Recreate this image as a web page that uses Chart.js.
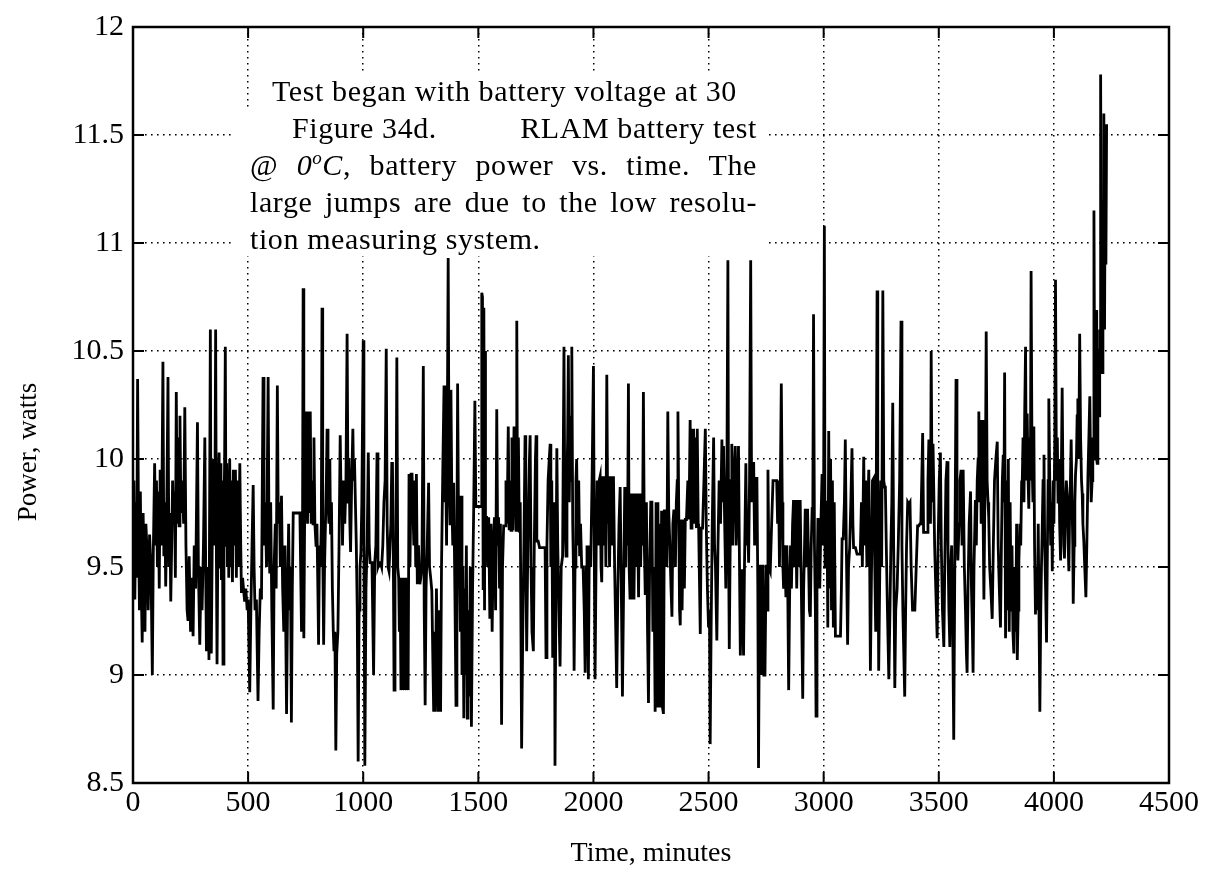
<!DOCTYPE html>
<html lang="en">
<head>
    <meta charset="UTF-8">
    <title>RLAM battery test - power vs. time</title>
    <script src="https://cdn.jsdelivr.net/npm/chart.js"></script>
    <style>
        html, body { margin: 0; padding: 0; background: #fff; }
        #wrap { width: 1206px; height: 888px; position: relative; }
    </style>
</head>
<body>
<div id="wrap"><canvas id="powerChart" width="1206" height="888"></canvas></div>

<script>
    // axis ticks
    const xTickValues = [0, 500, 1000, 1500, 2000, 2500, 3000, 3500, 4000, 4500];
    const yTickValues = [8.5, 9, 9.5, 10, 10.5, 11, 11.5, 12];

    // [time (min), power (W)], split in runs of ~750 min
    const run1 = [
        [0,9.6],[4,9.9],[8,9.35],[12,9.8],[16,9.45],[20,10.37],[24,9.7],[28,9.3],[32,9.85],[36,9.4],
        [40,9.15],[44,9.75],[48,9.5],[52,9.2],[56,9.7],[60,9.6],[66,9.3],[72,9.65],[78,9.5],[84,9.0],
        [88,9.55],[94,9.98],[98,9.6],[102,9.9],[106,9.5],[110,9.85],[114,9.4],[118,9.95],[124,9.6],[130,10.45],
        [134,9.55],[138,9.8],[142,9.41],[146,9.7],[152,10.38],[156,9.5],[160,9.75],[164,9.34],[168,9.6],[172,9.9],
        [176,9.7],[180,9.85],[184,9.45],[188,10.31],[192,9.7],[196,10.1],[200,9.69],[204,10.2],[208,9.75],[214,9.9],
        [220,9.7],[225,10.24],[230,9.6],[235,9.3],[239,9.25],[244,9.55],[250,9.2],[256,9.45],[261,9.18],[266,9.6],
        [272,9.4],[280,10.17],[284,9.5],[290,9.14],[296,9.5],[300,9.3],[306,9.6],[312,10.1],[316,9.45],[319,9.11],
        [324,9.5],[330,9.07],[336,10.6],[340,9.1],[345,9.7],[350,10.0],[355,9.6],[359,10.6],[362,9.6],[365,9.05],
        [370,9.8],[374,10.03],[378,9.5],[382,9.98],[384,9.44],[388,9.9],[391,9.05],[395,9.7],[398,10.0],[401,10.52],
        [404,9.6],[407,9.98],[410,9.5],[413,9.95],[416,9.45],[420,10.0],[424,9.5],[428,9.9],[432,9.43],[436,9.95],
        [440,9.6],[445,9.95],[449,9.45],[453,9.9],[458,9.5],[464,9.98],[468,9.6],[471,9.38],[476,9.45],[480,9.4],
        [485,9.34],[490,9.4],[496,9.3],[500,9.35],[507,8.92],[512,9.3],[517,9.6],[522,9.88],[526,9.5],[530,9.3],
        [536,9.35],[543,8.88],[548,9.2],[553,9.4],[558,9.35],[565,10.38],[569,9.6],[574,9.8],[580,9.5],[587,10.38],
        [591,9.6],[594,9.47],[598,9.8],[603,9.3],[609,8.84],[613,9.5],[618,9.7],[622,9.4],[627,10.34],[631,9.7],
        [636,9.8],[640,9.5],[645,9.83],[650,9.4],[655,9.2],[660,9.6],[667,8.82],[672,9.4],[676,9.7],[680,9.3],
        [684,9.5],[688,8.78],[692,9.4],[696,9.75],[705,9.75],[715,9.75],[725,9.75],[732,9.2],[736,9.5],[739,10.79],
        [742,9.17],[746,9.8]
    ];
    const run2 = [
        [750,9.75],[754,10.22],[758,9.7],[762,10.22],[766,9.75],[770,10.22],[774,9.7],[778,9.9],[782,9.7],[786,10.1],
        [790,9.7],[795,9.6],[799,9.7],[803,9.4],[806,9.14],[810,9.6],[814,9.5],[818,9.7],[821,10.7],[824,9.6],
        [828,9.14],[832,9.5],[836,9.7],[840,9.9],[843,10.14],[847,9.8],[851,9.7],[855,10.0],[858,9.65],[862,9.8],
        [866,9.4],[870,9.2],[873,9.11],[877,9.2],[881,8.65],[885,9.1],[890,9.2],[895,9.6],[900,10.11],[904,9.8],
        [907,9.9],[910,9.6],[915,9.9],[920,9.7],[925,9.9],[930,10.58],[934,9.8],[938,10.0],[942,9.7],[945,9.57],
        [950,9.9],[955,10.14],[958,9.9],[962,10.0],[966,9.8],[970,9.6],[974,9.3],[978,8.6],[982,9.3],[986,9.5],
        [990,9.57],[994,9.8],[1000,10.55],[1003,9.6],[1007,8.58],[1012,9.4],[1017,9.6],[1022,10.03],[1026,9.6],[1030,9.52],
        [1038,9.52],[1045,9.0],[1050,9.52],[1055,9.6],[1060,10.03],[1064,9.5],[1070,9.52],[1075,9.52],[1080,9.5],[1085,9.6],
        [1090,9.8],[1095,9.9],[1100,10.51],[1104,9.7],[1108,9.5],[1112,9.48],[1115,9.48],[1120,9.7],[1124,9.98],[1127,9.98],
        [1131,9.5],[1134,8.93],[1138,9.5],[1142,9.6],[1146,10.47],[1150,9.5],[1154,9.45],[1157,9.2],[1160,9.45],[1164,8.93],
        [1168,9.45],[1171,8.93],[1175,9.45],[1179,8.93],[1183,9.45],[1187,8.93],[1191,9.45],[1195,8.93],[1199,9.93],[1203,9.5],
        [1208,9.93],[1212,9.93],[1216,9.93],[1220,9.6],[1224,9.9],[1228,9.5],[1231,9.93],[1235,9.42],[1240,9.6],[1246,9.42],
        [1250,9.45],[1255,9.5],[1261,10.43],[1265,9.3],[1269,8.86],[1273,9.4],[1278,9.6],[1284,9.89],[1288,9.5],[1293,9.45],
        [1298,9.39],[1302,9.1],[1306,8.83],[1310,9.2],[1313,8.83],[1318,9.4],[1322,9.1],[1326,8.83],[1330,9.3],[1336,8.83],
        [1340,9.5],[1345,9.9],[1351,10.34],[1355,9.8],[1358,10.0],[1362,9.6],[1366,10.3],[1369,10.93],[1373,9.9],[1377,9.7],
        [1381,10.32],[1385,9.8],[1389,9.6],[1393,9.89],[1398,9.4],[1403,8.86],[1407,9.6],[1410,10.35],[1414,9.7],[1418,9.5],
        [1422,9.2],[1425,9.83],[1429,9.0],[1433,9.5],[1437,8.8],[1440,9.4],[1444,9.0],[1448,9.6],[1452,8.8],[1455,9.3],
        [1460,8.9],[1465,9.5],[1470,8.76],[1475,9.4],[1480,9.78],[1485,10.27],[1489,9.78],[1493,9.78],[1500,9.78],[1508,9.78],
        [1512,9.78],[1515,10.77]
    ];
    const run3 = [
        [1518,10.75],[1521,9.4],[1524,10.7],[1527,9.3],[1529,10.5],[1531,9.73],[1536,9.73],[1540,9.5],[1545,9.73],[1550,9.26],
        [1555,9.7],[1560,9.2],[1565,9.6],[1570,9.73],[1575,9.3],[1580,10.23],[1584,9.6],[1588,9.73],[1592,9.4],[1596,9.7],
        [1601,8.77],[1605,9.5],[1610,9.69],[1616,9.69],[1620,9.9],[1625,9.7],[1630,10.15],[1634,9.67],[1638,9.9],[1642,9.67],
        [1646,10.1],[1650,9.67],[1655,10.15],[1660,9.9],[1664,9.67],[1667,10.64],[1670,9.8],[1674,10.1],[1678,9.66],[1682,9.8],
        [1688,8.66],[1693,9.2],[1698,9.6],[1703,10.11],[1706,9.6],[1710,9.11],[1714,9.5],[1718,9.8],[1722,10.0],[1725,10.11],
        [1729,9.5],[1733,9.2],[1739,9.11],[1743,9.6],[1748,10.0],[1751,10.11],[1754,9.62],[1760,9.62],[1766,9.59],[1775,9.59],
        [1783,9.59],[1790,9.59],[1794,9.08],[1798,9.6],[1803,9.9],[1808,10.0],[1812,10.07],[1815,9.5],[1819,9.9],[1823,9.08],
        [1827,9.5],[1830,9.8],[1833,8.58],[1837,9.4],[1841,10.05],[1845,9.6],[1850,9.3],[1855,9.04],[1860,9.5],[1866,9.55],
        [1872,10.52],[1876,9.7],[1881,9.55],[1885,9.9],[1888,10.1],[1891,10.48],[1895,9.8],[1899,10.2],[1903,9.9],[1906,10.52],
        [1910,9.7],[1913,9.5],[1916,9.02],[1920,9.5],[1924,9.9],[1927,10.0],[1932,9.6],[1936,9.9],[1940,9.55],[1944,9.7],
        [1949,9.5],[1955,9.5],[1960,9.3],[1964,9.01],[1968,9.5],[1972,9.6],[1978,8.98],[1982,9.6],[1988,9.5],[1994,9.9],
        [2000,10.43],[2004,9.5],[2007,8.98],[2012,9.6],[2016,9.9],[2020,9.6],[2025,9.9],[2029,9.92],[2033,9.5],[2036,9.43],
        [2040,9.92],[2045,9.6],[2050,9.92],[2054,9.5],[2058,10.39],[2062,9.7],[2065,9.92],[2070,9.5],[2075,9.92],[2080,9.6],
        [2087,9.92],[2092,9.5],[2097,9.2],[2101,8.94],[2106,9.4],[2111,9.7],[2116,9.87],[2120,9.5],[2126,8.9],[2131,9.4],
        [2136,9.87],[2140,9.5],[2145,9.87],[2148,9.6],[2152,10.35],[2155,9.5],[2159,9.35],[2164,9.84],[2168,9.35],[2172,9.84],
        [2176,9.35],[2181,9.84],[2186,9.5],[2190,9.84],[2196,9.36],[2200,9.84],[2205,9.5],[2210,9.84],[2213,9.6],[2217,10.31],
        [2221,9.6],[2225,9.37],[2230,9.8],[2235,9.2],[2239,8.87],[2244,9.5],[2249,9.8],[2254,9.8],[2258,9.2],[2263,9.5],
        [2268,8.83]
    ];
    const run4 = [
        [2272,9.8],[2276,8.85],[2280,9.8],[2284,8.85],[2288,9.7],[2292,8.85],[2296,9.76],[2300,8.85],[2304,8.82],[2308,9.76],
        [2315,9.76],[2319,9.5],[2323,10.22],[2327,9.76],[2332,9.6],[2337,9.4],[2341,9.27],[2345,9.7],[2349,9.76],[2352,9.76],
        [2356,9.5],[2360,9.8],[2364,9.9],[2367,10.22],[2371,9.7],[2374,9.3],[2377,9.23],[2381,9.72],[2385,9.3],[2390,9.72],
        [2395,9.4],[2399,9.72],[2404,9.72],[2410,9.9],[2415,9.72],[2420,10.18],[2424,9.68],[2428,10.14],[2432,9.7],[2435,10.14],
        [2439,9.7],[2443,10.1],[2447,9.68],[2451,10.14],[2455,9.7],[2457,9.68],[2461,9.4],[2464,9.19],[2468,9.68],[2474,9.68],
        [2480,9.9],[2486,10.14],[2490,9.7],[2495,9.4],[2500,9.22],[2504,9.3],[2507,8.68],[2511,9.2],[2516,9.7],[2522,10.1],
        [2526,9.6],[2530,9.5],[2536,9.16],[2541,9.6],[2546,9.9],[2552,9.7],[2558,10.09],[2562,9.8],[2565,10.06],[2570,9.7],
        [2575,9.4],[2580,10.0],[2584,10.92],[2587,9.6],[2590,9.12],[2594,9.6],[2598,9.9],[2601,10.07],[2605,9.6],[2610,9.9],
        [2616,10.06],[2620,9.6],[2625,9.8],[2630,10.06],[2634,9.55],[2638,9.09],[2642,9.3],[2645,9.49],[2649,9.3],[2652,9.09],
        [2656,9.5],[2662,9.98],[2666,9.6],[2670,9.7],[2674,9.52],[2678,9.9],[2683,10.92],[2687,9.8],[2691,9.98],[2696,9.98],
        [2700,9.6],[2705,9.91],[2710,9.91],[2714,9.4],[2717,8.57],[2721,9.3],[2725,9.51],[2729,9.0],[2732,9.0],[2736,9.51],
        [2740,9.0],[2745,9.0],[2750,9.51],[2755,9.3],[2758,9.95],[2762,9.5],[2768,9.48],[2774,9.7],[2780,9.9],[2785,9.9],
        [2790,9.9],[2796,9.9],[2800,9.7],[2804,9.9],[2808,9.5],[2812,9.9],[2816,10.35],[2820,9.8],[2823,9.5],[2826,9.4],
        [2831,9.6],[2836,9.36],[2840,9.6],[2844,9.4],[2848,8.93],[2852,9.36],[2856,9.6],[2860,9.4],[2865,9.7],[2869,9.81],
        [2874,9.5],[2878,9.81],[2883,9.4],[2888,9.81],[2893,9.5],[2898,9.81],[2903,9.4],[2909,8.89],[2913,9.4],[2917,9.6],
        [2920,9.77],[2925,9.5],[2930,9.77],[2935,9.5],[2938,9.3],[2942,9.27],[2946,9.6],[2950,9.77],[2953,9.8],[2956,10.67],
        [2960,9.6],[2964,9.3],[2967,8.81],[2971,9.4],[2975,9.72],[2978,9.72],[2983,9.4],[2988,9.7],[2993,9.93],[2997,9.6],
        [3000,9.9],[3003,11.08],[3006,9.5],[3010,9.8]
    ];
    const run5 = [
        [3014,9.8],[3018,9.22],[3022,10.13],[3026,9.4],[3030,10.0],[3034,9.3],[3038,9.9],[3042,9.22],[3046,9.8],[3051,9.18],
        [3056,9.18],[3062,9.18],[3068,9.18],[3073,9.18],[3077,9.4],[3080,9.63],[3085,9.63],[3090,9.8],[3094,10.09],[3098,9.63],
        [3104,9.14],[3108,9.5],[3113,9.59],[3118,9.8],[3123,10.05],[3127,9.7],[3130,9.59],[3138,9.59],[3145,9.56],[3152,9.56],
        [3159,9.56],[3164,9.8],[3168,9.5],[3174,10.01],[3178,9.6],[3182,9.9],[3188,9.5],[3192,9.8],[3196,9.95],[3200,9.5],
        [3203,9.02],[3208,9.5],[3212,9.9],[3217,9.91],[3222,9.5],[3226,9.2],[3232,10.78],[3235,9.9],[3239,9.02],[3244,9.5],
        [3248,9.9],[3252,9.5],[3257,10.78],[3261,9.9],[3265,9.87],[3268,9.87],[3272,9.6],[3277,9.3],[3283,8.98],[3288,9.3],
        [3292,9.6],[3296,9.8],[3300,10.26],[3304,9.6],[3309,8.94],[3313,9.3],[3319,9.4],[3324,9.6],[3330,9.9],[3336,10.64],
        [3340,9.6],[3344,9.3],[3348,9.1],[3352,8.9],[3356,9.3],[3360,9.6],[3365,9.8],[3370,9.79],[3375,9.8],[3380,9.5],
        [3386,9.3],[3391,9.3],[3396,9.3],[3402,9.5],[3408,9.69],[3413,9.69],[3418,9.7],[3422,9.7],[3426,9.9],[3430,10.12],
        [3434,9.66],[3438,9.66],[3444,9.66],[3449,9.66],[3453,9.9],[3457,10.09],[3461,9.8],[3464,9.7],[3467,10.5],[3471,9.8],
        [3475,10.07],[3478,10.07],[3482,9.6],[3487,9.4],[3493,9.17],[3497,9.6],[3502,9.9],[3507,10.03],[3511,9.6],[3516,9.3],
        [3522,9.13],[3526,9.5],[3531,9.9],[3536,9.99],[3540,9.6],[3544,9.3],[3548,9.13],[3552,9.5],[3556,9.6],[3560,9.3],
        [3565,8.7],[3569,9.4],[3572,9.9],[3575,10.37],[3579,9.7],[3583,9.53],[3588,9.7],[3592,9.9],[3597,9.95],[3601,9.6],
        [3606,9.95],[3611,9.5],[3616,9.3],[3620,9.1],[3623,9.01],[3627,9.4],[3632,9.7],[3638,9.85],[3642,9.4],[3646,9.2],
        [3649,9.01],[3653,9.5],[3659,9.81],[3663,9.6],[3667,9.9],[3671,10.0],[3674,10.22],[3677,9.8],[3681,10.18],[3684,9.7],
        [3688,10.18],[3692,9.8],[3696,9.35],[3700,9.8],[3703,10.0],[3706,10.59],[3710,9.9],[3714,9.8],[3717,9.73],[3721,9.5],
        [3726,9.4],[3732,9.26],[3737,9.6],[3742,9.9],[3748,10.0],[3754,10.08],[3758,9.6],[3763,9.4],[3768,9.22],[3772,9.6],
        [3776,9.9],[3780,10.02],[3783,9.8],[3786,10.4]
    ];
    const run6 = [
        [3790,9.17],[3794,9.9],[3798,9.3],[3802,10.0],[3806,9.2],[3810,9.8],[3814,9.3],[3818,9.6],[3822,9.2],[3826,9.1],
        [3830,9.5],[3834,9.2],[3838,9.7],[3841,9.07],[3845,9.3],[3848,9.53],[3852,9.7],[3856,9.6],[3860,9.9],[3862,9.86],
        [3866,10.1],[3870,9.8],[3873,10.2],[3877,10.52],[3880,9.9],[3884,10.21],[3888,9.9],[3891,9.77],[3895,10.1],[3898,9.9],
        [3901,10.87],[3905,10.0],[3909,9.8],[3913,10.15],[3916,9.6],[3920,9.28],[3924,9.5],[3928,9.3],[3932,9.7],[3936,9.2],
        [3939,8.83],[3943,9.3],[3946,9.5],[3949,9.66],[3953,9.9],[3957,10.02],[3960,9.6],[3964,9.4],[3968,9.15],[3972,9.6],
        [3975,9.9],[3978,10.28],[3982,9.9],[3986,9.6],[3990,9.8],[3993,9.48],[3997,9.9],[4000,9.7],[4004,10.1],[4007,10.83],
        [4011,9.9],[4015,10.1],[4018,9.8],[4022,10.0],[4025,9.7],[4029,9.53],[4032,9.9],[4036,10.33],[4040,9.8],[4043,9.6],
        [4046,9.54],[4050,9.8],[4054,9.9],[4058,9.82],[4062,9.6],[4065,9.48],[4069,9.8],[4072,9.9],[4075,10.09],[4079,9.8],
        [4082,9.6],[4084,9.33],[4088,9.6],[4091,9.8],[4094,9.93],[4098,10.0],[4101,10.2],[4104,10.28],[4108,10.0],[4112,10.58],
        [4116,10.1],[4120,9.9],[4123,9.84],[4126,9.7],[4130,9.62],[4134,9.5],[4139,9.36],[4143,9.6],[4148,9.93],[4152,10.1],
        [4156,10.29],[4159,10.0],[4162,9.8],[4166,9.9],[4169,10.1],[4171,10.0],[4174,11.15],[4177,10.3],[4180,10.0],[4184,10.69],
        [4186,10.0],[4188,9.98],[4191,10.3],[4193,10.51],[4196,10.2],[4199,10.6],[4201,10.4],[4203,11.78],[4206,10.7],[4208,11.0],
        [4210,10.4],[4213,11.2],[4215,10.8],[4217,11.6],[4220,10.6],[4223,11.4],[4226,10.9],[4229,11.55]
    ];

    // caption text overlaid in the upper-left of the plot
    const noteTop = 'Test began with battery voltage at 30';
    const captionHead = 'Figure 34d.';
    const captionHeadRight = 'RLAM battery test';
    const captionLine4 = 'large jumps are due to the low resolu-';
    const captionLine5 = 'tion measuring system.';
    const yTitle = 'Power, watts';

    const SERIF = '"Liberation Serif", "Times New Roman", serif';
    const powerData = [].concat(run1, run2, run3, run4, run5, run6).map(p => ({ x: p[0], y: p[1] }));

    // draw a list of words spread evenly between x0 and x1
    function justify(ctx, words, x0, x1, y) {
        const widths = words.map(w => w.reduce((s, r) => { ctx.font = r.f; return s + ctx.measureText(r.t).width; }, 0));
        const total = widths.reduce((a, b) => a + b, 0);
        const gap = (x1 - x0 - total) / (words.length - 1);
        let x = x0;
        words.forEach((w, i) => {
            let cx = x;
            w.forEach(r => {
                ctx.font = r.f;
                ctx.fillText(r.t, cx, y + (r.dy || 0));
                cx += ctx.measureText(r.t).width;
            });
            x += widths[i] + gap;
        });
    }

    const captionPlugin = {
        id: 'caption',
        beforeDatasetsDraw(chart) {
            // white panel behind the caption hides the dotted grid
            const ctx = chart.ctx;
            ctx.save();
            ctx.fillStyle = '#fff';
            ctx.fillRect(265, 74, 500, 36);
            ctx.fillRect(232, 110, 533, 146);
            ctx.restore();
        },
        afterDatasetsDraw(chart) {
            const ctx = chart.ctx;
            const xs = chart.scales.x, ys = chart.scales.y;
            const { left, right, top, bottom } = chart.chartArea;
            ctx.save();
            // frame and inward tick marks
            ctx.strokeStyle = '#000';
            ctx.lineWidth = 2.5;
            ctx.strokeRect(left, top, right - left, bottom - top);
            ctx.lineWidth = 2;
            ctx.beginPath();
            yTickValues.forEach(v => {
                const py = ys.getPixelForValue(v);
                ctx.moveTo(left, py); ctx.lineTo(left + 11, py);
                ctx.moveTo(right, py); ctx.lineTo(right - 11, py);
            });
            xTickValues.forEach(v => {
                const px = xs.getPixelForValue(v);
                ctx.moveTo(px, bottom); ctx.lineTo(px, bottom - 11);
                ctx.moveTo(px, top); ctx.lineTo(px, top + 11);
            });
            ctx.stroke();

            // y axis title (sits a little below the middle of the axis)
            ctx.fillStyle = '#000';
            ctx.save();
            ctx.translate(29, 452);
            ctx.rotate(-Math.PI / 2);
            ctx.font = '27px ' + SERIF;
            ctx.textAlign = 'center';
            ctx.textBaseline = 'middle';
            ctx.fillText(yTitle, 0, 0);
            ctx.restore();

            // caption
            ctx.textBaseline = 'alphabetic';
            ctx.letterSpacing = '0.6px';
            const f = '30px ' + SERIF, fi = 'italic 30px ' + SERIF, fs = 'italic 19px ' + SERIF;
            ctx.font = f;
            ctx.textAlign = 'left';
            ctx.fillText(noteTop, 272, 101);
            ctx.fillText(captionHead, 292, 138);
            ctx.textAlign = 'right';
            ctx.fillText(captionHeadRight, 757, 138);
            ctx.textAlign = 'left';
            justify(ctx, [
                [{ t: '@', f }],
                [{ t: '0', f: fi }, { t: 'o', f: fs, dy: -11 }, { t: 'C', f: fi }, { t: ',', f }],
                [{ t: 'battery', f }], [{ t: 'power', f }], [{ t: 'vs.', f }],
                [{ t: 'time.', f }], [{ t: 'The', f }]
            ], 250, 757, 175);
            justify(ctx, captionLine4.split(' ').map(t => [{ t, f }]), 250, 757, 212);
            ctx.font = f;
            ctx.fillText(captionLine5, 250, 249);
            ctx.restore();
        }
    };

    const tickFont = { family: SERIF, size: 30 };

    new Chart(document.getElementById('powerChart'), {
        type: 'line',
        data: {
            datasets: [{
                data: powerData,
                borderColor: '#000',
                borderWidth: 2.8,
                pointRadius: 0,
                fill: false,
                tension: 0
            }]
        },
        options: {
            responsive: false,
            animation: false,
            layout: { padding: { left: 0, right: 37, top: 21, bottom: 0 } },
            plugins: { legend: { display: false }, tooltip: { enabled: false } },
            scales: {
                x: {
                    type: 'linear',
                    min: 0,
                    max: 4500,
                    afterBuildTicks: s => { s.ticks = xTickValues.map(v => ({ value: v })); },
                    afterFit: s => { s.height = 105; },
                    ticks: {
                        color: '#000', font: tickFont, padding: 2, maxRotation: 0, autoSkip: false,
                        callback: v => String(v)
                    },
                    grid: { color: '#000', lineWidth: 1.5, drawTicks: false },
                    border: { display: false, dash: [1.6, 4.4] },
                    title: {
                        display: true, text: 'Time, minutes', color: '#000',
                        font: { family: SERIF, size: 28 }, padding: { top: 0, bottom: 18 }
                    }
                },
                y: {
                    min: 8.5,
                    max: 12,
                    afterBuildTicks: s => { s.ticks = yTickValues.map(v => ({ value: v })); },
                    afterFit: s => { s.width = 133; },
                    ticks: {
                        color: '#000', font: tickFont, padding: 9, autoSkip: false,
                        callback: v => String(v)
                    },
                    grid: { color: '#000', lineWidth: 1.5, drawTicks: false },
                    border: { display: false, dash: [1.6, 4.4] }
                }
            }
        },
        plugins: [captionPlugin]
    });
</script>
</body>
</html>
